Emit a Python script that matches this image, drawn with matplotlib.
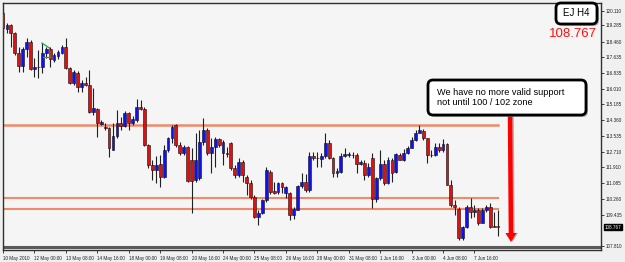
import numpy as np
import matplotlib
matplotlib.use("Agg")
import matplotlib.pyplot as plt
from matplotlib.patches import FancyBboxPatch, FancyArrow

# =============================================================================
# DATA - EJ H4, one candle per 4h bar (10 May 2010 16:00 -> 8 Jun 2010)
# =============================================================================
opens = [120.01, 119.17, 119.38, 118.96, 117.91, 117.22, 118.12, 118.49, 117.07, 117.17,
         117.17, 117.91, 118.12, 117.54, 117.75, 117.91, 118.22, 117.12, 116.33, 116.86,
         116.12, 116.33, 116.23, 114.81, 114.97, 114.18, 114.02, 113.97, 112.82, 113.55,
         114.23, 114.08, 114.76, 114.23, 114.39, 115.07, 114.97, 113.08, 112.03, 111.77,
         112.08, 111.40, 112.82, 113.45, 114.13, 113.08, 112.66, 112.97, 112.29, 111.24,
         111.35, 113.24, 113.87, 112.66, 112.97, 113.39, 112.66, 112.66, 113.18, 111.87,
         111.50, 112.19, 111.40, 111.08, 110.35, 109.30, 109.51, 110.19, 111.66, 110.66,
         110.61, 111.08, 110.56, 110.56, 109.40, 109.67, 110.93, 111.14, 110.72, 112.50,
         112.40, 112.34, 112.50, 113.18, 112.40, 111.61, 111.66, 112.50, 112.55, 112.55,
         112.55, 112.08, 112.13, 111.50, 112.40, 110.24, 111.35, 112.08, 111.08, 112.29,
         111.66, 112.55, 112.29, 112.66, 112.92, 113.34, 113.71, 113.81, 113.45, 112.55,
         112.55, 112.97, 112.82, 113.13, 110.98, 109.93, 109.72, 108.20, 108.77, 109.82,
         109.56, 109.67, 108.98, 109.67, 109.82, 108.82, 108.82]

highs = [120.16, 119.48, 119.43, 119.01, 118.22, 118.22, 118.70, 118.59, 117.65, 118.07,
         118.43, 118.22, 118.22, 117.91, 118.07, 118.33, 118.70, 117.17, 117.01, 116.96,
         116.49, 116.65, 117.01, 116.07, 115.02, 114.39, 114.23, 114.02, 114.23, 114.92,
         114.55, 114.86, 114.81, 114.60, 115.49, 115.44, 115.07, 113.13, 112.29, 112.50,
         112.55, 113.08, 113.50, 114.13, 114.18, 113.24, 113.08, 113.03, 112.92, 113.71,
         113.87, 114.50, 113.97, 113.45, 113.50, 113.45, 113.34, 112.97, 113.24, 112.03,
         112.40, 112.29, 111.50, 111.24, 110.45, 109.67, 110.24, 111.92, 111.77, 111.14,
         111.14, 111.14, 110.93, 110.61, 109.82, 110.98, 111.61, 111.56, 112.71, 112.71,
         112.71, 112.66, 113.71, 113.34, 112.45, 111.87, 112.66, 112.92, 112.71, 112.71,
         112.66, 112.29, 112.29, 112.13, 112.66, 111.40, 112.82, 112.29, 112.45, 112.40,
         112.66, 112.66, 112.87, 113.03, 113.50, 113.87, 114.13, 113.92, 113.45, 112.82,
         113.18, 113.18, 113.39, 113.18, 111.24, 110.19, 109.82, 108.82, 109.93, 110.30,
         109.93, 109.77, 109.77, 109.93, 110.03, 109.56, 109.67]

lows = [118.96, 118.96, 118.22, 117.80, 116.91, 116.91, 117.70, 117.01, 116.65, 116.60,
        116.86, 117.65, 117.17, 117.43, 117.59, 117.86, 117.07, 116.28, 116.23, 115.86,
        115.86, 116.18, 114.76, 114.65, 113.50, 114.13, 113.87, 112.45, 112.82, 113.45,
        113.87, 114.02, 113.87, 114.13, 114.29, 114.92, 113.03, 111.87, 111.24, 111.08,
        110.87, 111.35, 112.71, 113.18, 112.97, 112.55, 112.55, 111.14, 109.51, 111.14,
        111.24, 113.08, 112.55, 111.61, 111.92, 112.97, 112.03, 112.45, 111.77, 111.35,
        111.40, 111.14, 110.45, 110.24, 109.25, 108.88, 109.46, 110.09, 110.51, 110.51,
        110.51, 110.56, 110.30, 109.14, 109.19, 109.67, 110.82, 110.61, 110.61, 112.29,
        111.92, 111.92, 112.40, 112.34, 111.40, 111.40, 111.61, 112.45, 112.45, 112.40,
        111.61, 112.03, 111.24, 111.40, 109.77, 110.09, 111.24, 110.98, 111.03, 111.14,
        111.61, 112.29, 112.24, 112.61, 112.92, 113.29, 113.71, 113.34, 112.13, 112.45,
        112.50, 112.71, 112.71, 110.98, 109.82, 109.40, 108.09, 108.09, 108.72, 109.25,
        109.30, 108.88, 108.98, 109.56, 108.72, 108.77, 108.30]

closes = [119.22, 119.38, 118.96, 117.91, 117.22, 118.12, 118.49, 117.07, 117.17, 117.15,
          117.91, 118.12, 117.59, 117.80, 117.96, 118.22, 117.12, 116.33, 116.91, 116.12,
          116.33, 116.23, 114.81, 115.02, 114.23, 114.29, 113.97, 112.92, 113.55, 114.23,
          114.08, 114.76, 114.23, 114.44, 115.07, 114.97, 113.08, 112.03, 111.77, 112.03,
          111.40, 112.82, 113.45, 114.02, 113.08, 112.66, 112.97, 111.19, 111.19, 112.29,
          113.24, 113.87, 112.66, 112.97, 113.39, 113.08, 113.24, 112.63, 111.87, 111.50,
          112.19, 111.50, 111.08, 110.35, 109.30, 109.51, 110.19, 111.77, 110.61, 110.56,
          111.08, 110.87, 110.87, 109.40, 109.72, 110.93, 111.14, 110.72, 112.50, 112.40,
          112.37, 112.50, 113.18, 112.40, 111.61, 111.71, 112.50, 112.61, 112.61, 112.53,
          112.08, 112.19, 111.50, 111.92, 110.24, 111.35, 112.08, 111.08, 112.29, 111.61,
          112.61, 112.29, 112.66, 112.92, 113.34, 113.71, 113.87, 113.45, 112.55, 112.53,
          112.97, 112.82, 113.13, 110.98, 109.93, 109.82, 108.20, 108.77, 109.82, 109.56,
          109.67, 108.98, 109.67, 109.82, 108.77, 108.77, 108.767]

niveis = [114.13, 110.29, 109.72]          # horizontal support / resistance lines
preco_atual = 108.767

y_ticks = [120.110, 119.285, 118.460, 117.635, 116.835, 116.010, 115.185, 114.360,
           113.535, 112.710, 111.910, 111.085, 110.260, 109.435, 107.810]
y_tick_pos = [120.11, 119.36, 118.49, 117.70, 116.86, 116.02, 115.23, 114.39,
              113.55, 112.71, 111.92, 111.08, 110.24, 109.40, 107.77]

x_tick_labels = ["10 May 2010", "12 May 00:00", "13 May 08:00", "14 May 16:00",
                 "18 May 00:00", "19 May 08:00", "20 May 16:00", "24 May 00:00",
                 "25 May 08:00", "26 May 16:00", "28 May 00:00", "31 May 08:00",
                 "1 Jun 16:00", "3 Jun 00:00", "4 Jun 08:00", "7 Jun 16:00"]
BARRAS_POR_LABEL = 8

# =============================================================================
# FIGURE
# =============================================================================
FONTE = "Liberation Sans"
FONTE_EIXO = 3.3
fig = plt.figure(figsize=(6.25, 2.62), dpi=100, facecolor="#f0f0f0")
ax = fig.add_axes([3 / 625, 12 / 262, 598 / 625, 247 / 262], facecolor="#f5f5f5")

o = np.array(opens)
h = np.array(highs)
l = np.array(lows)
c = np.array(closes)
x = np.arange(len(o))

hi = np.maximum(h, np.maximum(o, c))
lo = np.minimum(l, np.minimum(o, c))
ax.vlines(x, lo, hi, color="#202020", lw=0.8, zorder=2)

alta = c >= o
cores = np.where(alta, "#1010f0", "#e01010")
corpo_base = np.minimum(o, c)
corpo_alt = np.maximum(np.abs(c - o), 0.02)
ax.bar(x, corpo_alt, bottom=corpo_base, width=0.72, color=cores,
       edgecolor="#101010", linewidth=0.4, zorder=3)

# support lines
for i, nv in enumerate(niveis):
    ax.axhline(nv, xmin=0, xmax=(498 - 3) / 598, color="#f08a68",
               lw=1.8 if i == 0 else 1.5, zorder=1)

# bottom grey separator line
ax.axhline(107.70, color="#5a5a5a", lw=2.2, zorder=1)

# small green triangle (drawing object)
ax.plot([9.9, 11.8], [118.43, 118.17], color="#20a050", lw=0.9, zorder=4)
ax.plot([10.3, 12.0], [117.70, 117.70], color="#20a050", lw=0.9, zorder=4)
ax.plot([11.8, 12.0], [118.17, 117.70], color="#20a050", lw=0.6, zorder=4)

ax.set_xlim(0.05, 152.2)
ax.set_ylim(107.565, 120.53)

ax.yaxis.tick_right()
ax.set_yticks(y_tick_pos)
ax.set_yticklabels([f"{v:.3f}" for v in y_ticks])
ax.tick_params(axis="y", labelsize=FONTE_EIXO, length=2, width=0.6, pad=1.5, colors="#202020")

ax.set_xticks(np.arange(len(x_tick_labels)) * BARRAS_POR_LABEL)
ax.set_xticklabels(x_tick_labels, ha="left")
ax.tick_params(axis="x", labelsize=FONTE_EIXO, length=2.5, width=0.6, pad=1.5, colors="#202020")
for lbl in ax.get_xticklabels() + ax.get_yticklabels():
    lbl.set_family(FONTE)

for s in ax.spines.values():
    s.set_color("#303030")
    s.set_linewidth(1.0)

# current price tag
ax.annotate(f"{preco_atual:.3f}", xy=(1.0, preco_atual), xycoords=("axes fraction", "data"),
            xytext=(2.5, 0), textcoords="offset points", va="center", ha="left",
            fontsize=FONTE_EIXO, family=FONTE, color="white",
            bbox=dict(boxstyle="square,pad=0.15", fc="black", ec="black"))

# =============================================================================
# ANNOTATIONS (pixel positions via inches)
# =============================================================================
T = fig.dpi_scale_trans

def caixa(x0, y0, w, hgt):
    sombra = FancyBboxPatch((x0 + 0.02, y0 - 0.02), w, hgt,
                            boxstyle="round,pad=0,rounding_size=0.05",
                            transform=T, fc="#909090", ec="none", alpha=0.6, zorder=5)
    frente = FancyBboxPatch((x0, y0), w, hgt,
                            boxstyle="round,pad=0,rounding_size=0.05",
                            transform=T, fc="white", ec="black", lw=2.0, zorder=6)
    fig.add_artist(sombra)
    fig.add_artist(frente)

# EJ H4 label
caixa(5.56, 2.38, 0.41, 0.21)
fig.text(5.765, 2.485, "EJ H4", transform=T, ha="center", va="center",
         fontsize=7, family=FONTE, color="black", zorder=7)
fig.text(5.97, 2.28, f"{preco_atual:.3f}", transform=T, ha="right", va="center",
         fontsize=9.5, family=FONTE, color="#ff1010", zorder=7)

# arrow (shadow + red)
fig.add_artist(FancyArrow(5.115, 1.47, 0.01, -1.27, width=0.045, head_width=0.11,
                          head_length=0.09, length_includes_head=True, transform=T,
                          fc="#808080", ec="none", alpha=0.6, zorder=4))
fig.add_artist(FancyArrow(5.10, 1.48, 0.01, -1.28, width=0.045, head_width=0.11,
                          head_length=0.09, length_includes_head=True, transform=T,
                          fc="#ff0000", ec="none", zorder=5))

# callout
caixa(4.28, 1.47, 1.58, 0.35)
fig.text(4.37, 1.645, "We have no more valid support\nnot until 100 / 102 zone",
         transform=T, ha="left", va="center", fontsize=6.6, family=FONTE,
         color="black", linespacing=1.25, zorder=7)

plt.savefig("out.png", dpi=100, facecolor=fig.get_facecolor())
plt.close()
